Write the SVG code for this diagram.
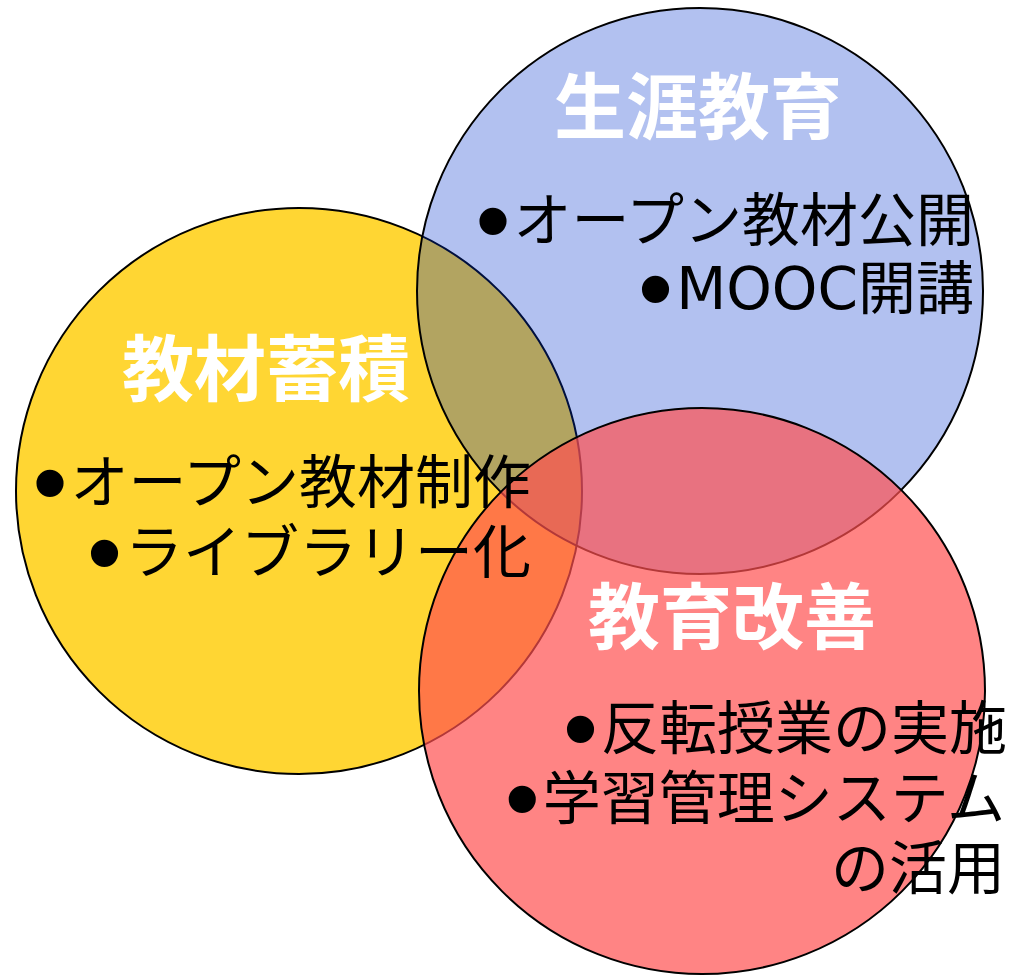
<svg xmlns="http://www.w3.org/2000/svg" width="1011" height="975" viewBox="0 0 1011 975">
<style>
.c{stroke:#000;stroke-width:2}
.t{font-family:"Noto Sans CJK JP","DejaVu Sans",sans-serif;font-weight:700;font-size:72px;fill:#fff;text-anchor:middle}
.b{font-family:"Noto Sans CJK JP",sans-serif;font-size:58px;fill:#000;text-anchor:end}
.l{font-family:"DejaVu Sans",sans-serif}
.d{font-family:"Liberation Sans",sans-serif;font-size:100px}
</style>
<rect width="1011" height="975" fill="#fff"/>
<g id="node-accumulation">
<circle class="c" cx="299" cy="491" r="283" fill="#FFD633"/>
</g>
<g id="node-lifelong">
<circle class="c" cx="700" cy="291" r="283" fill="#0033CC" fill-opacity="0.3"/>
</g>
<g id="node-improvement">
<circle class="c" cx="702" cy="691" r="283" fill="#FF5050" fill-opacity="0.7"/>
</g>
<g id="labels-accumulation">
<text class="t" x="266" y="395">教材蓄積</text>
<text class="b" x="531" y="503"><tspan class="d" dy="14">•</tspan><tspan dx="3" dy="-14">オープン教材制作</tspan></text>
<text class="b" x="531" y="573"><tspan class="d" dy="14">•</tspan><tspan dx="3" dy="-14">ライブラリー化</tspan></text>
</g>
<g id="labels-lifelong">
<text class="t" x="698" y="133">生涯教育</text>
<text class="b" x="974" y="241"><tspan class="d" dy="14">•</tspan><tspan dx="3" dy="-14">オープン教材公開</tspan></text>
<text class="b" x="974" y="309"><tspan class="d" dy="14">•</tspan><tspan class="l" dx="3" dy="-14">MOOC</tspan>開講</text>
</g>
<g id="labels-improvement">
<text class="t" x="732" y="643">教育改善</text>
<text class="b" x="1007" y="749"><tspan class="d" dy="14">•</tspan><tspan dx="3" dy="-14">反転授業の実施</tspan></text>
<text class="b" x="1005" y="819"><tspan class="d" dy="14">•</tspan><tspan dx="3" dy="-14">学習管理システム</tspan></text>
<text class="b" x="1005" y="889">の活用</text>
</g>
<g id="connectors"/>
</svg>
